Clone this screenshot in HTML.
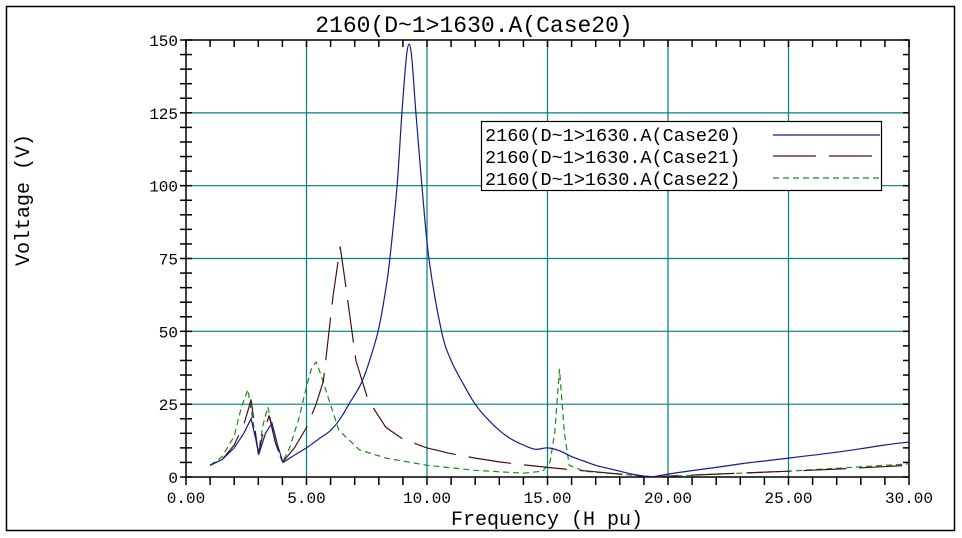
<!DOCTYPE html>
<html><head><meta charset="utf-8"><style>
html,body{margin:0;padding:0;background:#fff;}
svg{display:block;font-family:"Liberation Mono","DejaVu Sans Mono",monospace;}
</style></head><body>
<svg id="s" width="962" height="538" viewBox="0 0 962 538" xmlns="http://www.w3.org/2000/svg">
<rect x="6.5" y="6.5" width="948" height="524" fill="none" stroke="#000" stroke-width="1.5"/>
<text x="474" y="32" font-size="23" text-anchor="middle" fill="#000">2160(D~1&gt;1630.A(Case20)</text>
<g id="grid" stroke="#008080" stroke-width="1.2"></g>
<g id="ax" stroke="#000" stroke-width="1.5"></g>
<g id="lab" font-size="16" fill="#000"></g>
<text x="547" y="525" font-size="20" text-anchor="middle">Frequency (H pu)</text>
<text transform="translate(29,200) rotate(-90)" font-size="20" text-anchor="middle">Voltage (V)</text>
<g id="data" fill="none" stroke-width="1.2"></g>
<rect x="481.5" y="121.5" width="400" height="69" fill="#fff" stroke="#000" stroke-width="1.2"/>
<g font-size="18.5" fill="#000">
<text x="485" y="141">2160(D~1&gt;1630.A(Case20)</text>
<text x="485" y="163">2160(D~1&gt;1630.A(Case21)</text>
<text x="485" y="185">2160(D~1&gt;1630.A(Case22)</text>
</g>
<line x1="773" y1="135" x2="880" y2="135" stroke="#1a1a8c" stroke-width="1.3"/>
<line x1="773" y1="156" x2="880" y2="156" stroke="#4a1010" stroke-width="1.3" stroke-dasharray="43,13"/>
<line x1="773" y1="178" x2="880" y2="178" stroke="#1a8a1a" stroke-width="1.3" stroke-dasharray="6,4"/>
</svg>
<script>
var NS="http://www.w3.org/2000/svg";
function X(f){return 186+24.1*f;}
function Y(v){return 477-2.9133*v;}
function el(p,t,a){var e=document.createElementNS(NS,t);for(var k in a)e.setAttribute(k,a[k]);p.appendChild(e);return e;}
var g=document.getElementById('grid'),ax=document.getElementById('ax'),lab=document.getElementById('lab');
for(var i=1;i<6;i++){el(g,'line',{x1:X(i*5),x2:X(i*5),y1:40,y2:477});el(g,'line',{x1:186,x2:909,y1:Y(i*25),y2:Y(i*25)});}
el(ax,'rect',{x:186,y:40,width:723,height:437,fill:'none'});
for(var f=0;f<=30;f++){el(ax,'line',{x1:X(f),x2:X(f),y1:477,y2:485});el(ax,'line',{x1:X(f),x2:X(f),y1:40,y2:47});}
for(var v=0;v<=150;v+=5){el(ax,'line',{x1:180,x2:192,y1:Y(v),y2:Y(v)});el(ax,'line',{x1:903,x2:909,y1:Y(v),y2:Y(v)});}
for(var i=0;i<=6;i++){var t=el(lab,'text',{x:X(i*5),y:503,'text-anchor':'middle'});t.textContent=(i*5).toFixed(2);
var t2=el(lab,'text',{x:178,y:Y(i*25)+6,'text-anchor':'end'});t2.textContent=String(i*25);}
var s20=[[1,4],[1.5,6],[2,10],[2.4,15],[2.7,20],[3.03,8],[3.3,15],[3.57,18.5],[3.8,11],[4.02,5],[4.5,7.5],[5,10],[5.5,13],[6,16],[6.4,20],[6.76,25],[7.2,31],[7.5,37],[7.97,50],[8.3,65],[8.46,75],[8.76,100],[8.96,125],[9.17,146],[9.34,146],[9.54,125],[9.79,100],[10.08,75],[10.6,50],[11,40],[11.5,32],[12,25],[12.5,20],[13,16],[13.5,13],[14,11],[14.5,9.5],[15,10],[15.5,9],[16,7],[16.5,5.5],[17,4],[17.5,3],[18,2],[18.5,1],[19,0.3],[19.3,0],[20,1],[21,2.2],[22,3.3],[23,4.5],[24,5.5],[25,6.5],[26,7.5],[27,8.5],[28,9.7],[29,11],[30,12]];
var s21=[[1,4],[1.5,6],[2,11],[2.4,18],[2.7,26.5],[3.0,8],[3.2,15],[3.45,21],[3.7,12],[4.0,5],[4.5,10],[5,17],[5.4,25],[5.7,33],[6.1,62],[6.4,79],[6.64,65],[7.05,40],[7.55,26.5],[8.3,17],[9,13],[10,10],[11,8],[12,6.5],[13,5.2],[14,4.2],[15,3.3],[16,2.5],[17,1.8],[18,1],[19,0.3],[19.5,0],[20,0.3],[22,1],[25,2],[27,2.7],[30,4]];
var s22=[[1,4],[1.5,7],[2,14],[2.3,24],[2.57,30],[2.8,18],[3.0,8],[3.2,18],[3.4,24],[3.7,12],[4.0,5],[4.3,10],[4.7,20.6],[5.0,31],[5.2,37],[5.4,39.5],[5.6,35],[5.93,26.5],[6.35,16],[7.2,9.3],[8.3,6.5],[10,4],[12,2.3],[14,1.3],[14.8,2],[15.1,5],[15.3,15],[15.5,37],[15.7,15],[15.9,4],[16.5,2],[18,1],[19.5,0],[22,1],[25,2],[28,3.5],[30,4.5]];
var d=document.getElementById('data');
function path(s){var P=s.map(function(p){return [X(p[0]),Y(p[1])];});var str='M'+P[0][0].toFixed(1)+','+P[0][1].toFixed(1);
for(var i=0;i<P.length-1;i++){var p0=P[i-1]||P[i],p1=P[i],p2=P[i+1],p3=P[i+2]||p2;var k=(s[i][0]<4.05)?0:1/6;
var c1=[p1[0]+(p2[0]-p0[0])*k,p1[1]+(p2[1]-p0[1])*k],c2=[p2[0]-(p3[0]-p1[0])*k,p2[1]-(p3[1]-p1[1])*k];
str+=' C'+c1[0].toFixed(1)+','+c1[1].toFixed(1)+' '+c2[0].toFixed(1)+','+c2[1].toFixed(1)+' '+p2[0].toFixed(1)+','+p2[1].toFixed(1);}
return str;}
function pl(s,c,da,sm){if(sm){el(d,'path',{d:path(s),stroke:c,'stroke-dasharray':da||'none'});return;}
el(d,'polyline',{points:s.map(function(p){return X(p[0]).toFixed(1)+','+Y(p[1]).toFixed(1);}).join(' '),stroke:c,'stroke-dasharray':da||'none','stroke-linejoin':'round'});}
pl(s22,'#1a8a1a','6,4');pl(s21,'#4a1010','43,13');pl(s20,'#1a1a8c',null,true);
</script>
</body></html>
